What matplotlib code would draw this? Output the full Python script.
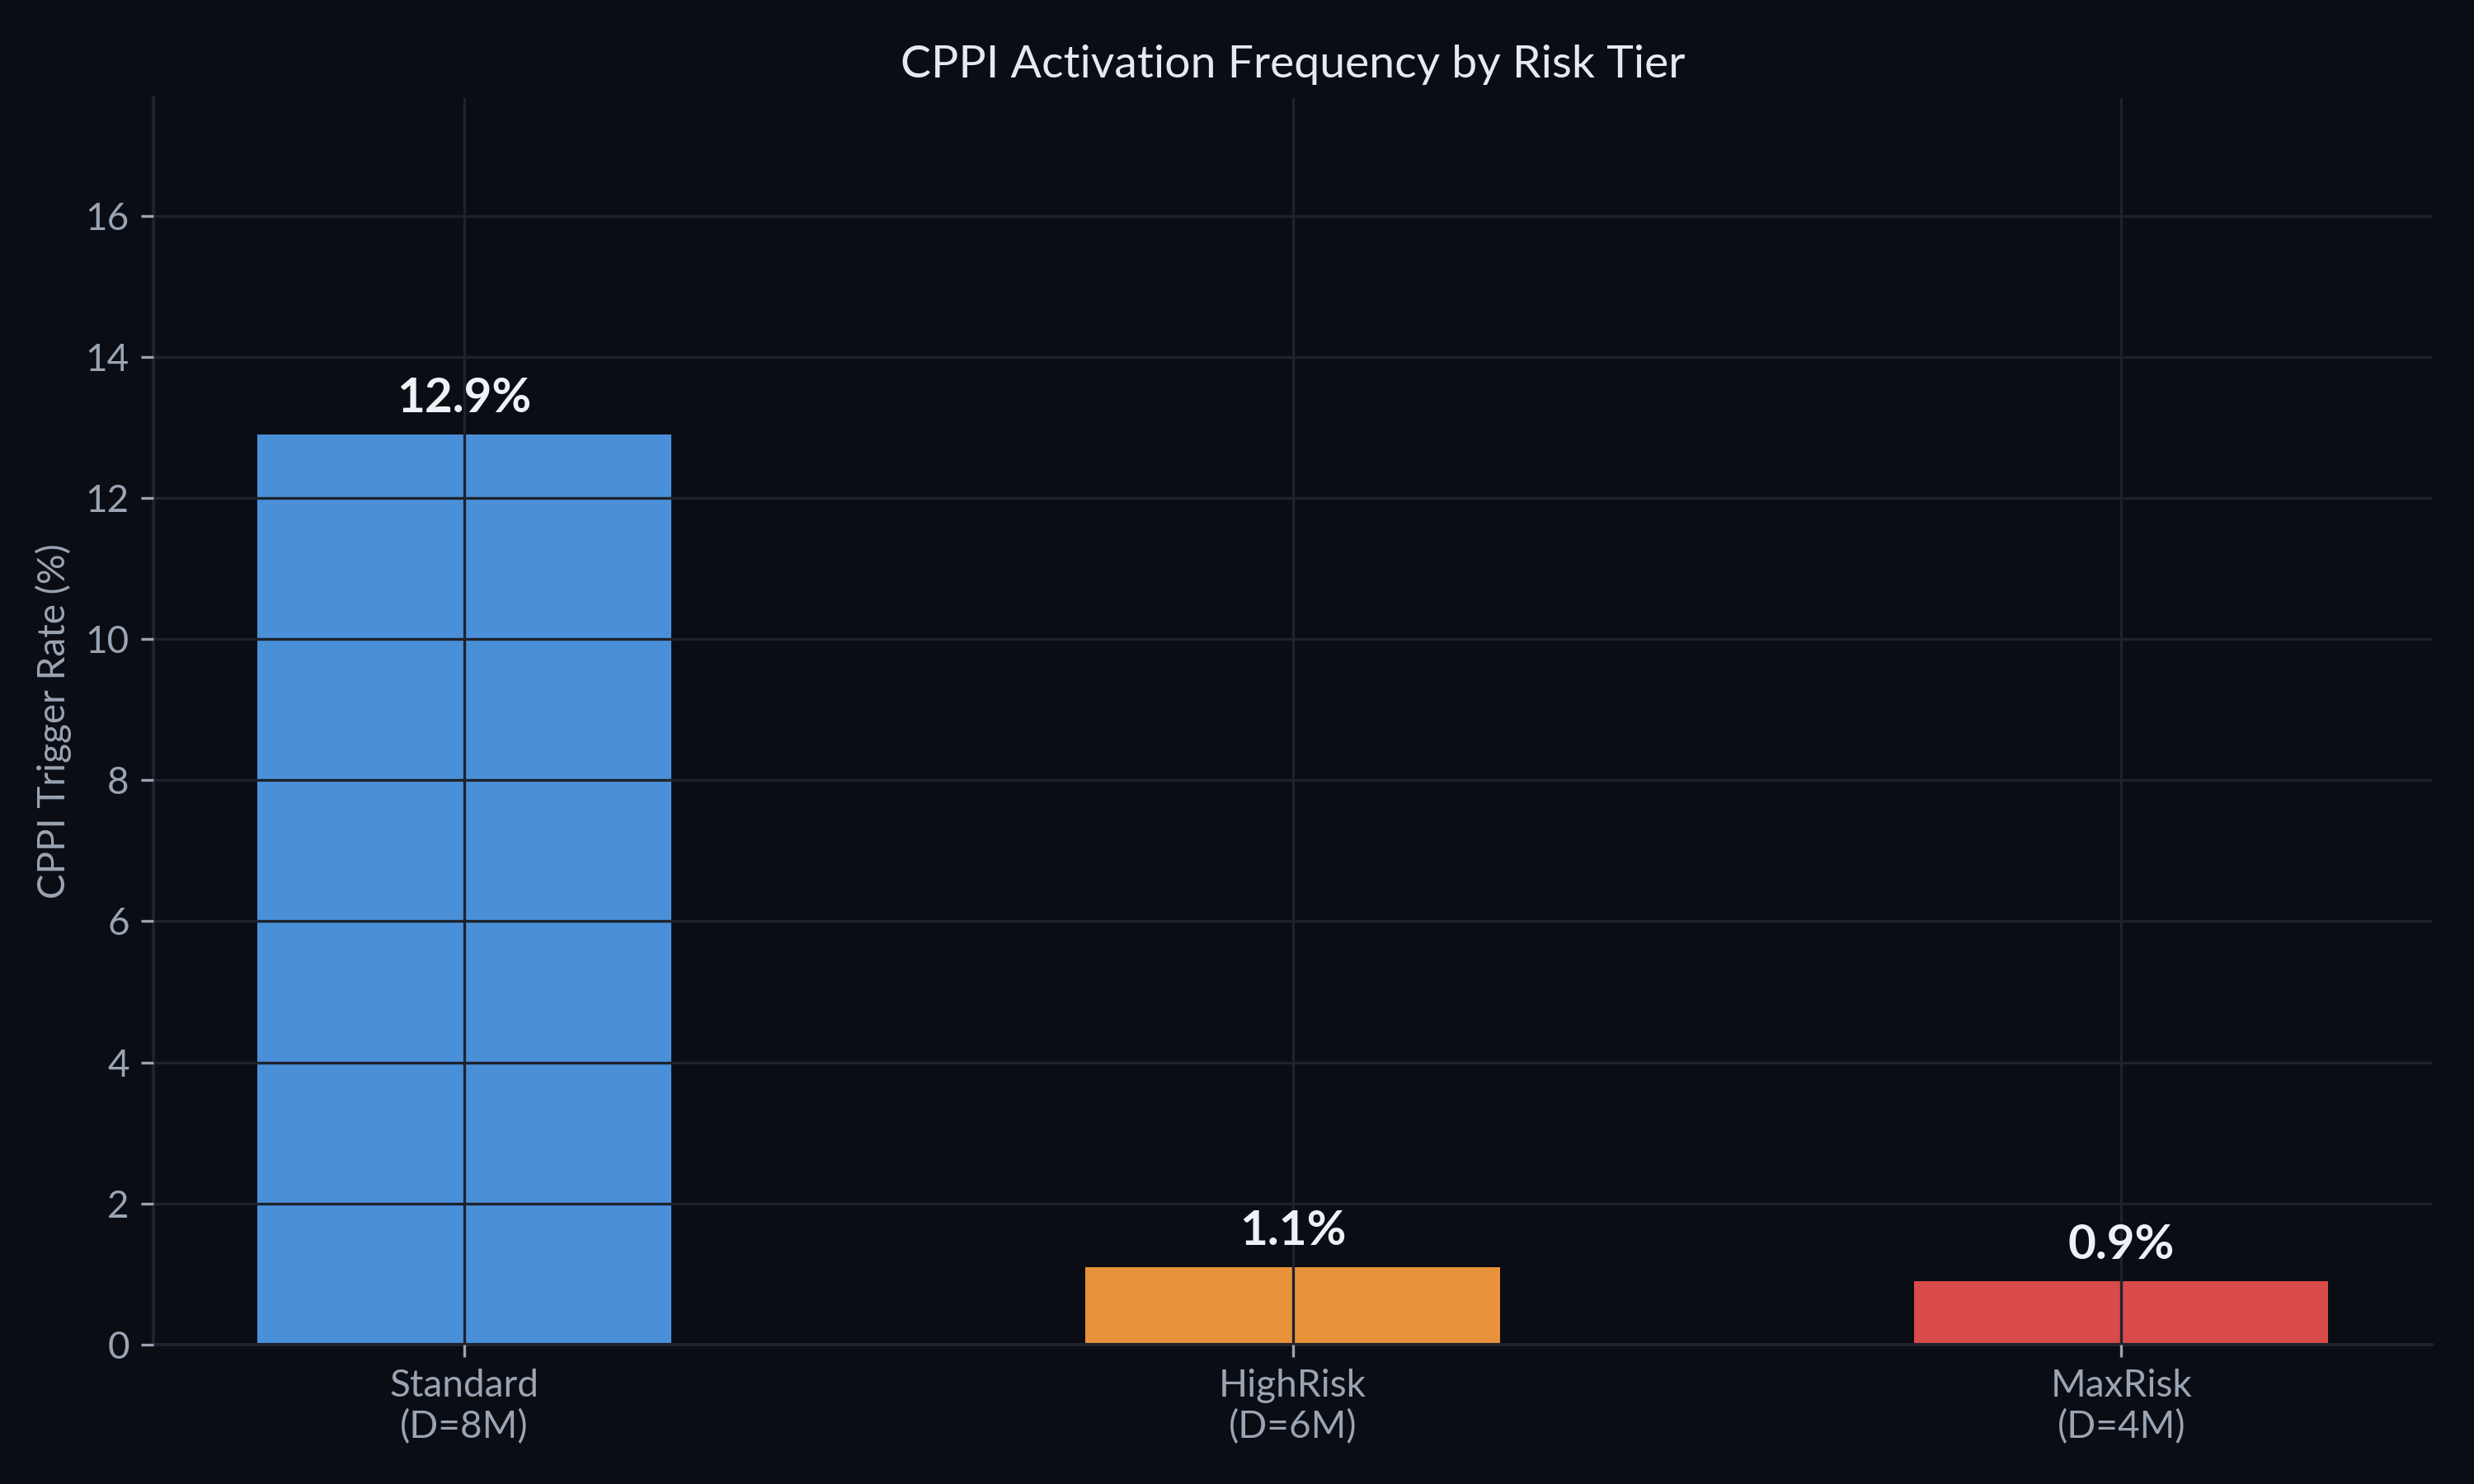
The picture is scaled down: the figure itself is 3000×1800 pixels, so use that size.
import matplotlib.pyplot as plt

# CPPI trigger rate per risk tier
tiers = ["Standard\n(D=8M)", "HighRisk\n(D=6M)", "MaxRisk\n(D=4M)"]
trigger_rate = [12.9, 1.1, 0.9]
bar_colors = ["#4a90d9", "#e8923a", "#d94b4b"]

BG = "#0a0d14"
GRID = "#1e222c"
TEXT = "#9aa4b2"

plt.rcParams['font.family'] = ['Lato', 'DejaVu Sans']


def plot_activation():
    fig, ax = plt.subplots(figsize=(10, 6), dpi=300)
    fig.patch.set_facecolor(BG)
    ax.set_facecolor(BG)

    x = range(len(tiers))
    ax.bar(x, trigger_rate, width=0.5, color=bar_colors)

    # value labels over each bar
    for i, v in enumerate(trigger_rate):
        ax.text(i, v + 0.2, f"{v:.1f}%", ha="center", va="bottom",
                color="#eef1f5", fontsize=14, fontweight="bold")

    ax.set_xticks(list(x))
    ax.set_xticklabels(tiers)
    ax.set_ylim(0, max(trigger_rate) * 1.37)
    ax.set_yticks([0, 2, 4, 6, 8, 10, 12, 14, 16])

    ax.set_axisbelow(False)
    ax.grid(True, color=GRID, linewidth=0.8)

    for side in ["top", "right"]:
        ax.spines[side].set_visible(False)
    for side in ["left", "bottom"]:
        ax.spines[side].set_color(GRID)
        ax.spines[side].set_linewidth(1.0)

    ax.tick_params(colors=TEXT, labelsize=11)
    ax.set_ylabel("CPPI Trigger Rate (%)", color=TEXT, fontsize=11)
    ax.set_title("CPPI Activation Frequency by Risk Tier", color="#e6e9ee",
                 fontsize=13.3, pad=6)

    fig.subplots_adjust(left=0.062, right=0.983, top=0.934, bottom=0.094)
    fig.savefig("out.png", facecolor=BG)


if __name__ == "__main__":
    plot_activation()
